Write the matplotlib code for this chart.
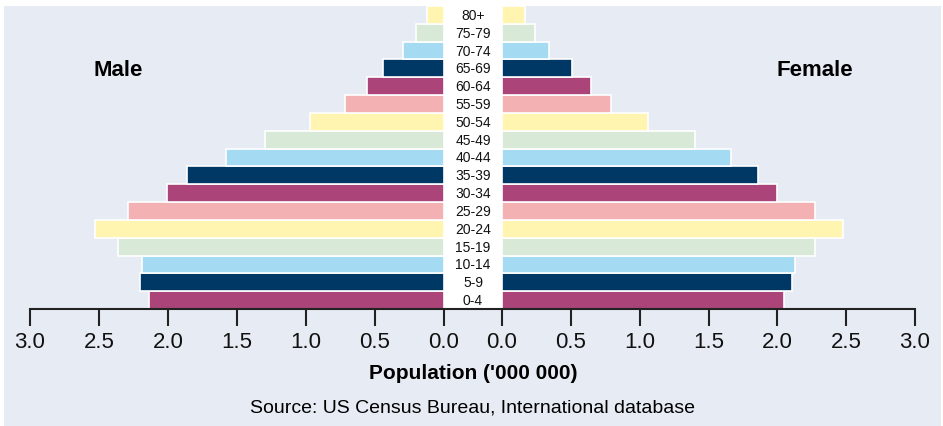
import matplotlib.pyplot as plt
from matplotlib.lines import Line2D
from matplotlib.patches import Rectangle

plt.rcParams["font.family"] = ["Liberation Sans", "DejaVu Sans"]

age_groups = ["0-4", "5-9", "10-14", "15-19", "20-24", "25-29", "30-34", "35-39",
              "40-44", "45-49", "50-54", "55-59", "60-64", "65-69", "70-74", "75-79", "80+"]
male = [2.14, 2.20, 2.19, 2.36, 2.53, 2.29, 2.01, 1.86, 1.58, 1.30, 0.97, 0.72,
        0.56, 0.44, 0.30, 0.20, 0.12]
female = [2.05, 2.11, 2.13, 2.27, 2.48, 2.27, 2.00, 1.86, 1.66, 1.40, 1.06, 0.79,
          0.65, 0.51, 0.34, 0.24, 0.17]
palette = ["#AB4479", "#003865", "#A4DAF2", "#D8E9D8", "#FFF5B1", "#F4B1B3"]
ticks = [0.0, 0.5, 1.0, 1.5, 2.0, 2.5, 3.0]

W, H = 943, 427
bg = "#E7EBF4"
fig = plt.figure(figsize=(W / 100, H / 100), dpi=100)
fig.patch.set_facecolor("white")
fig.patches.append(Rectangle((4 / W, 0), 937 / W, 1 - 7 / H, transform=fig.transFigure,
                             facecolor=bg, edgecolor="none", zorder=-10))


def box(x0, x1, y0=7, y1=310):
    return [x0 / W, 1 - y1 / H, (x1 - x0) / W, (y1 - y0) / H]


colors = [palette[i % len(palette)] for i in range(len(age_groups))]
y = range(len(age_groups))

ax_m = fig.add_axes(box(30, 444))
ax_f = fig.add_axes(box(502, 915))
ax_m.barh(y, male, height=1.0, color=colors, edgecolor="white", linewidth=1.2)
ax_f.barh(y, female, height=1.0, color=colors, edgecolor="white", linewidth=1.2)
ax_m.set_xlim(3.0, 0)
ax_f.set_xlim(0, 3.0)

for ax in (ax_m, ax_f):
    ax.set_facecolor("none")
    ax.set_ylim(-0.5, len(age_groups) - 0.5)
    for s in ax.spines.values():
        s.set_visible(False)
    ax.set_yticks([])
    ax.set_xticks(ticks)
    ax.set_xticklabels([f"{t:.1f}" for t in ticks])
    ax.tick_params(axis="x", length=12, width=1.5, color="#222222", pad=4,
                   labelsize=16, labelcolor="#111111")

# white strip with age labels
lab = fig.add_axes(box(444, 502))
lab.set_xlim(0, 1)
lab.set_ylim(-0.5, len(age_groups) - 0.5)
lab.set_facecolor("white")
lab.set_xticks([])
lab.set_yticks([])
for s in lab.spines.values():
    s.set_visible(False)
for i, g in enumerate(age_groups):
    lab.text(0.5, i, g, ha="center", va="center", fontsize=10, color="#111111")

fig.add_artist(Line2D([30 / W, 915 / W], [1 - 310 / H] * 2, transform=fig.transFigure,
                      color="#222222", linewidth=1.5))

fig.text(118 / W, 1 - 70 / H, "Male", ha="center", va="center", fontsize=16,
         fontweight="bold")
fig.text(815 / W, 1 - 70 / H, "Female", ha="center", va="center", fontsize=16,
         fontweight="bold")
fig.text(473 / W, 1 - 374 / H, "Population ('000 000)", ha="center", va="center",
         fontsize=15, fontweight="bold")
fig.text(473 / W, 1 - 408 / H, "Source: US Census Bureau, International database",
         ha="center", va="center", fontsize=14)

fig.savefig("out.png", dpi=100, facecolor=fig.get_facecolor())
